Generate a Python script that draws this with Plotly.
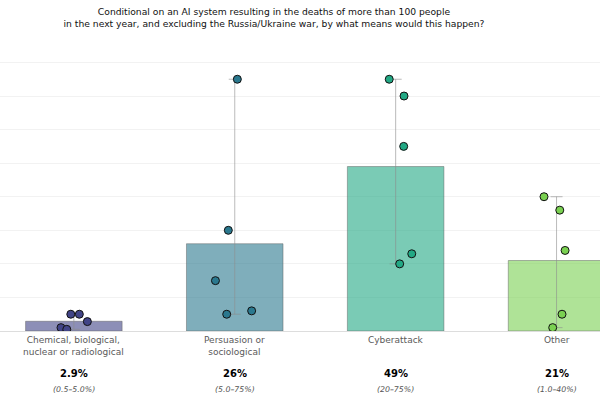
import plotly.graph_objects as go

categories = ["Chemical, biological,<br>nuclear or radiological", "Persuasion or<br>sociological", "Cyberattack", "Other"]
means = [0.029, 0.26, 0.49, 0.21]
lows = [0.005, 0.05, 0.20, 0.01]
highs = [0.05, 0.75, 0.75, 0.40]
mean_labels = ["2.9%", "26%", "49%", "21%"]
range_labels = ["(0.5–5.0%)", "(5.0–75%)", "(20–75%)", "(1.0–40%)"]

forecasts = [
    [0.05, 0.05, 0.028, 0.01, 0.005],
    [0.75, 0.30, 0.15, 0.05, 0.06],
    [0.75, 0.70, 0.55, 0.23, 0.20],
    [0.40, 0.36, 0.24, 0.05, 0.01],
]
jitter = [
    [-0.019, 0.034, 0.084, -0.080, -0.044],
    [0.016, -0.040, -0.120, -0.050, 0.105],
    [-0.040, 0.052, 0.050, 0.100, 0.025],
    [-0.078, 0.020, 0.053, 0.034, -0.024],
]

point_colors = ["#414487", "#2a788e", "#22a884", "#7ad151"]
bar_colors = ["rgba(65,68,135,0.6)", "rgba(42,120,142,0.6)", "rgba(34,168,132,0.6)", "rgba(122,209,81,0.6)"]

FONT = "DejaVu Sans"
xs = list(range(len(categories)))

fig = go.Figure()
fig.add_trace(go.Bar(
    x=xs, y=means, width=0.6,
    marker=dict(color=bar_colors, line=dict(color="rgba(90,90,90,0.45)", width=1)),
    error_y=dict(type="data", symmetric=False,
                 array=[h - m for h, m in zip(highs, means)],
                 arrayminus=[m - l for m, l in zip(means, lows)],
                 color="rgba(140,140,140,0.6)", thickness=1, width=6),
    showlegend=False, hoverinfo="skip",
))

for i, (vals, jit) in enumerate(zip(forecasts, jitter)):
    fig.add_trace(go.Scatter(
        x=[i + j for j in jit], y=vals, mode="markers",
        marker=dict(size=8, color=point_colors[i], line=dict(color="#111111", width=1)),
        showlegend=False,
    ))

for i in xs:
    fig.add_annotation(x=i, y=0, xref="x", yref="y", text=categories[i],
                       showarrow=False, yanchor="top", yshift=-2,
                       font=dict(family=FONT, size=9, color="#5a5a5a"))
    fig.add_annotation(x=i, y=0, xref="x", yref="y", text="<b>" + mean_labels[i] + "</b>",
                       showarrow=False, yanchor="middle", yshift=-42,
                       font=dict(family=FONT, size=10, color="#000000"))
    fig.add_annotation(x=i, y=0, xref="x", yref="y", text="<i>" + range_labels[i] + "</i>",
                       showarrow=False, yanchor="middle", yshift=-58,
                       font=dict(family=FONT, size=7.8, color="#555555"))

fig.update_layout(
    width=600, height=400,
    margin=dict(l=0, r=0, t=45, b=69),
    paper_bgcolor="white", plot_bgcolor="white",
    title=dict(text="Conditional on an AI system resulting in the deaths of more than 100 people<br>in the next year, and excluding the Russia/Ukraine war, by what means would this happen?",
               x=274 / 600, xanchor="center", y=1 - 15 / 400, yanchor="top",
               font=dict(family=FONT, size=9.2, color="#111111")),
    xaxis=dict(range=[-0.459, 3.27], showticklabels=False, showgrid=False, zeroline=False,
               showline=False, fixedrange=True),
    yaxis=dict(range=[0, 0.852], dtick=0.1, showticklabels=False, showgrid=True,
               gridcolor="#f2f2f2", gridwidth=1, zeroline=True, zerolinecolor="#dddddd",
               zerolinewidth=1, showline=False),
    font=dict(family=FONT),
)

fig.write_html("out.html", config={"displayModeBar": False},
               post_script="document.body.style.margin='0';document.body.style.overflow='hidden';")
